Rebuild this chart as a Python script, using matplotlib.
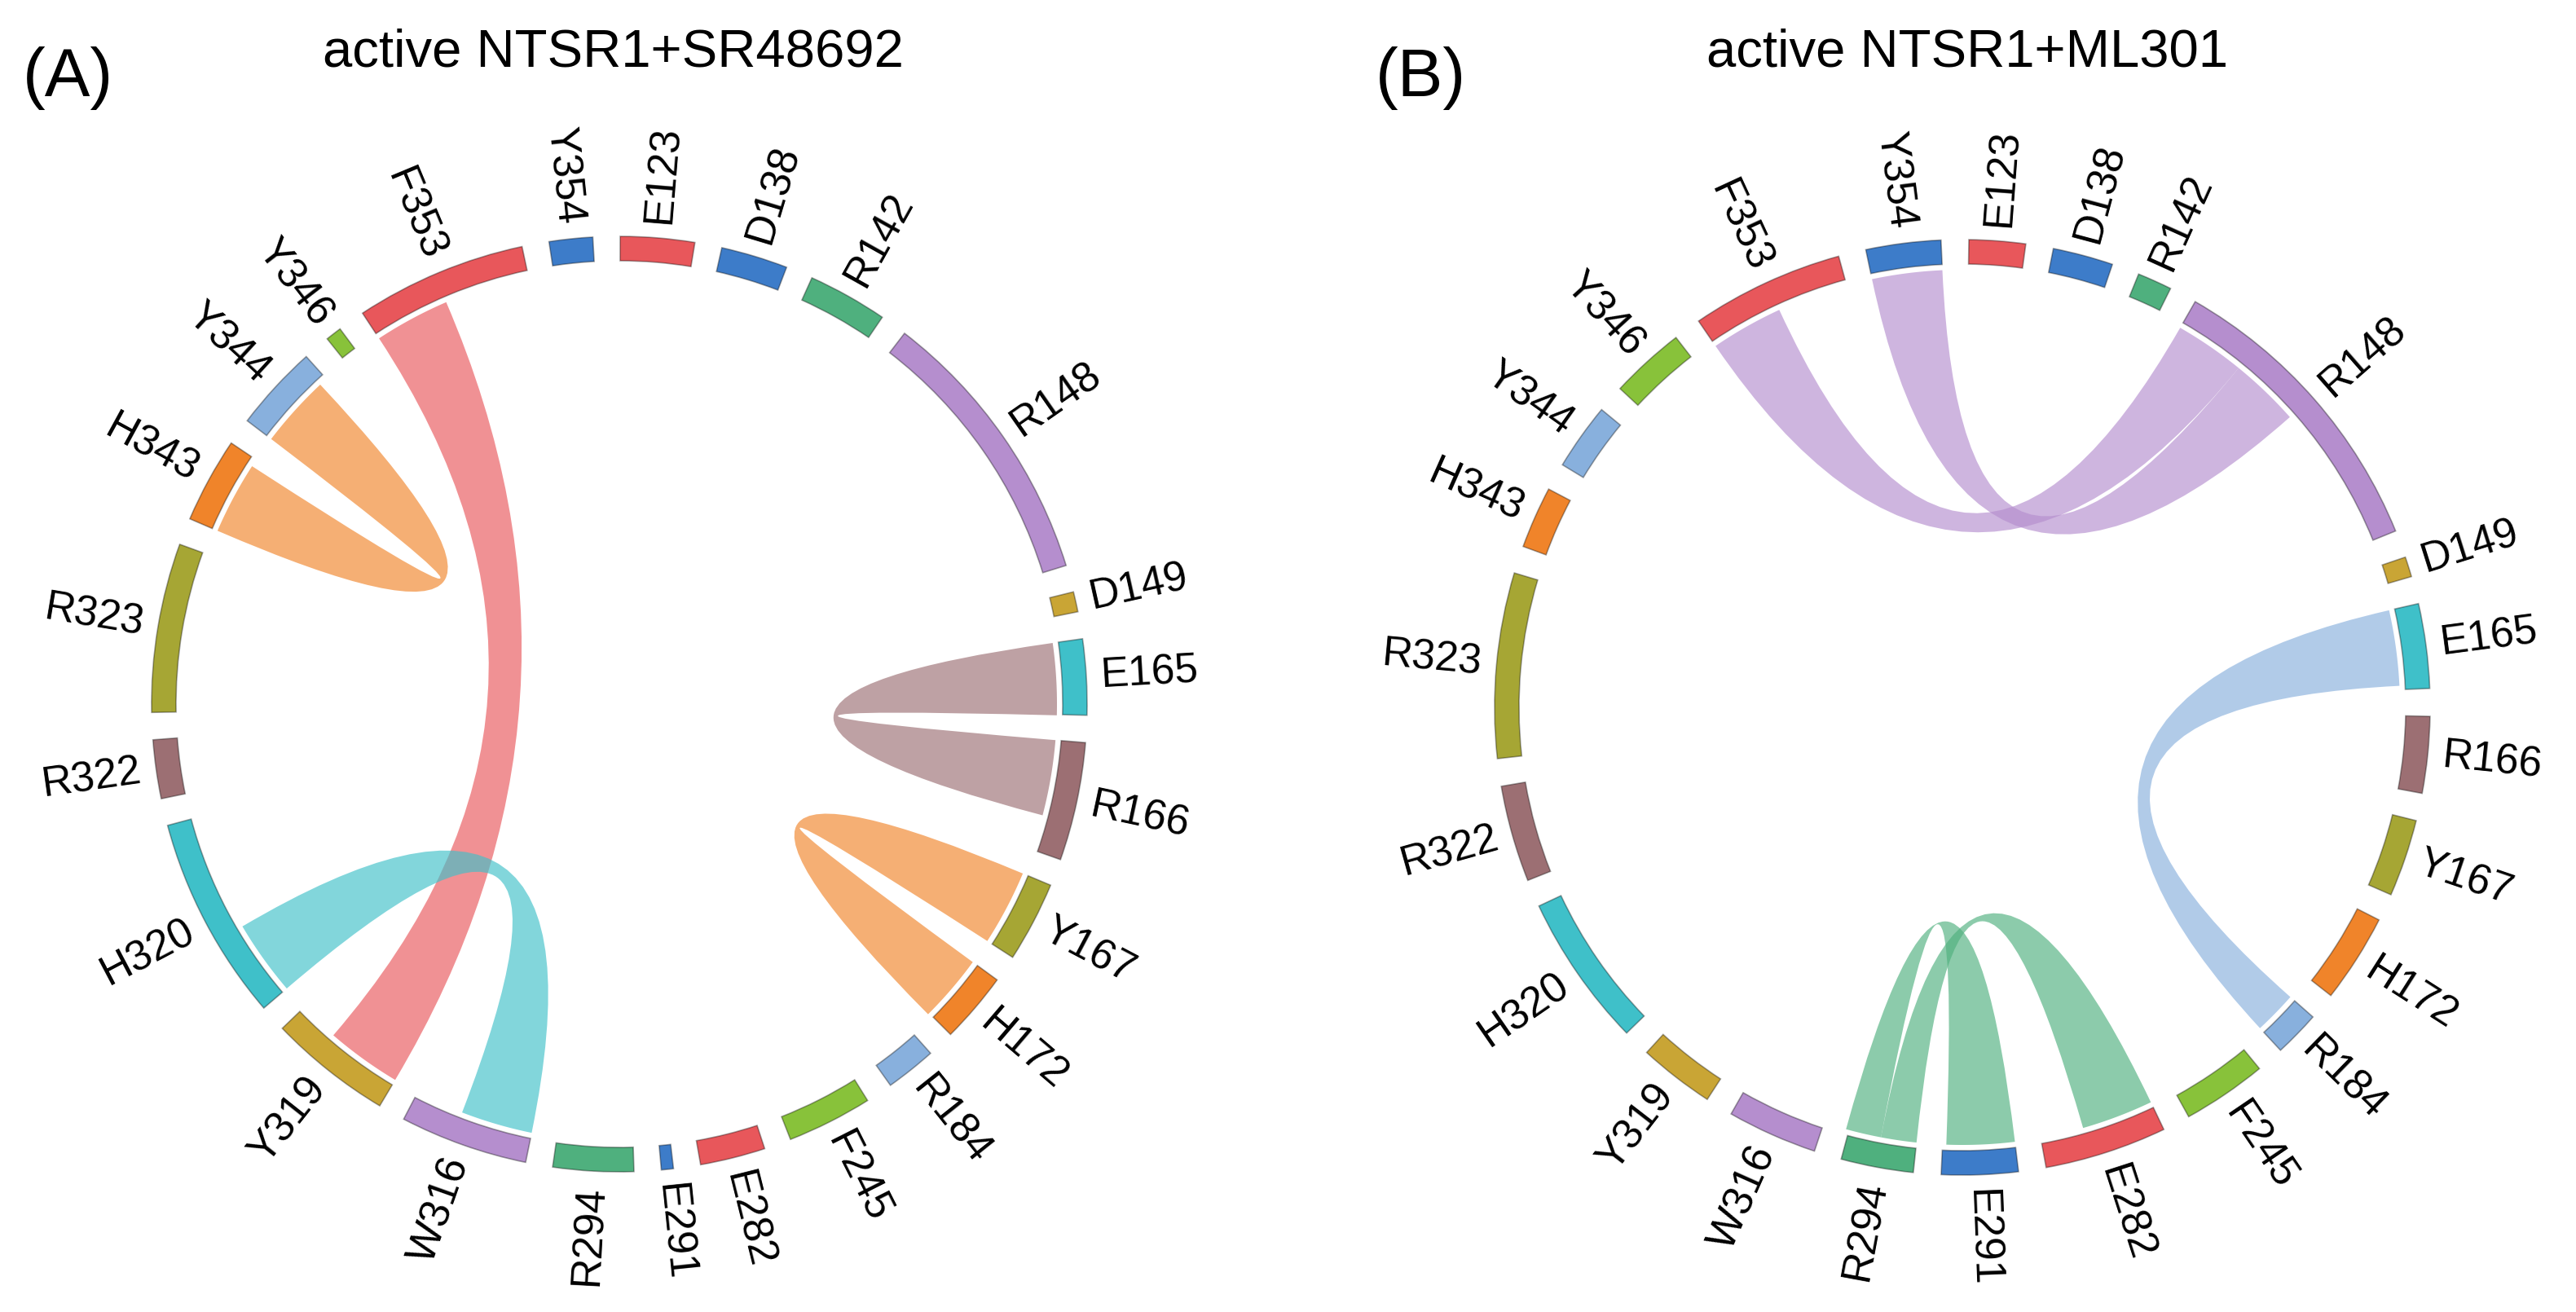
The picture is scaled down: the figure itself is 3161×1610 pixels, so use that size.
import numpy as np
import matplotlib.pyplot as plt
from matplotlib.patches import Wedge, PathPatch
from matplotlib.path import Path

plt.rcParams['font.family'] = ['Liberation Sans', 'DejaVu Sans']

W, H = 3161, 1610

# residues, clockwise from the top
residues = ["E123", "D138", "R142", "R148", "D149", "E165", "R166", "Y167",
            "H172", "R184", "F245", "E282", "E291", "R294", "W316", "Y319",
            "H320", "R322", "R323", "H343", "Y344", "Y346", "F353", "Y354"]

palette = ["#e8575b", "#3d7cc9", "#4fb07e", "#b58ece", "#c9a535", "#3fc0c9",
           "#9c6f73", "#a6a634", "#f0842a", "#88b0dd", "#88c23a"]

# arc size of every residue (degrees)
sizes_a = [9.2, 8.3, 9.9, 35.2, 2.5, 9.4, 14.7, 10.0, 8.8, 6.3, 10.6, 8.1,
           1.5, 10.0, 15.9, 15.3, 25.5, 7.3, 21.0, 10.6, 10.7, 2.0, 21.3, 5.4]
sizes_b = [7.0, 7.5, 4.3, 38.0, 2.5, 10.5, 9.5, 9.6, 11.0, 5.7, 10.5, 15.2,
           9.5, 9.0, 11.2, 9.4, 19.0, 12.0, 23.0, 7.7, 8.3, 9.3, 19.0, 9.3]

# links: (source, target, width at source, width at target)
links_a = [("F353", "Y319", 10.0, 10.0),
           ("H320", "W316", 10.0, 9.5),
           ("H343", "Y344", 9.6, 9.6),
           ("R166", "E165", 10.0, 9.5),
           ("H172", "Y167", 9.0, 10.0)]
links_b = [("R148", "F353", 9.3, 9.6),
           ("R148", "Y354", 9.3, 9.3),
           ("R184", "E165", 5.7, 10.0),
           ("R294", "E282", 4.7, 9.5),
           ("R294", "E291", 4.7, 9.0)]


def polar(cx, cy, r, a):
    t = np.radians(a)
    return cx + r * np.sin(t), cy + r * np.cos(t)


def arc_pts(cx, cy, r, a0, a1, n=40):
    t = np.linspace(a0, a1, n)
    x, y = polar(cx, cy, r, t)
    return list(zip(x, y))


def draw_chord(ax, cx, cy, sizes, links, start):
    r_out, width = 574, 30
    r_link = r_out - width - 7
    sizes = np.array(sizes)
    gap = (360 - sizes.sum()) / len(sizes)
    starts = start + np.concatenate([[0], np.cumsum(sizes + gap)[:-1]])
    ends = starts + sizes
    used = dict.fromkeys(residues, 0.0)

    for i, name in enumerate(residues):
        ax.add_patch(Wedge((cx, cy), r_out, 90 - ends[i], 90 - starts[i],
                           width=width, fc=palette[i % 11],
                           ec=(0, 0, 0, 0.35), lw=1.2, zorder=3))
        mid = (starts[i] + ends[i]) / 2
        x, y = polar(cx, cy, r_out + 18, mid)
        if mid < 180:
            rot, ha = 90 - mid, 'left'
        else:
            rot, ha = 270 - mid, 'right'
        ax.text(x, y, name, rotation=rot, rotation_mode='anchor',
                ha=ha, va='center', fontsize=37)

    for src, dst, ws, wd in links:
        i, j = residues.index(src), residues.index(dst)
        a0 = starts[i] + used[src]
        a1 = a0 + ws
        used[src] += ws
        b0 = starts[j] + used[dst]
        b1 = b0 + wd
        used[dst] += wd

        pa = arc_pts(cx, cy, r_link, a0, a1)
        pb = arc_pts(cx, cy, r_link, b0, b1)
        verts = pa + [(cx, cy), pb[0]] + pb + [(cx, cy), pa[0], pa[0]]
        codes = ([Path.MOVETO] + [Path.LINETO] * (len(pa) - 1)
                 + [Path.CURVE3, Path.CURVE3]
                 + [Path.LINETO] * len(pb)
                 + [Path.CURVE3, Path.CURVE3, Path.CLOSEPOLY])
        ax.add_patch(PathPatch(Path(verts, codes), fc=palette[i % 11],
                               alpha=0.65, ec='none', zorder=2))


fig = plt.figure(figsize=(W / 100, H / 100), dpi=100)
ax = fig.add_axes([0, 0, 1, 1])
ax.set_xlim(0, W)
ax.set_ylim(0, H)
ax.axis('off')

draw_chord(ax, 760, H - 864, sizes_a, links_a, 0.1)
draw_chord(ax, 2408, H - 868, sizes_b, links_b, 0.8)

ax.text(752, H - 82, "active NTSR1+SR48692", ha='center', va='baseline', fontsize=47)
ax.text(2414, H - 82, "active NTSR1+ML301", ha='center', va='baseline', fontsize=47)
ax.text(28, H - 96, "(A)", ha='left', va='center', fontsize=60)
ax.text(1688, H - 96, "(B)", ha='left', va='center', fontsize=60)

fig.savefig("out.png", dpi=100)
